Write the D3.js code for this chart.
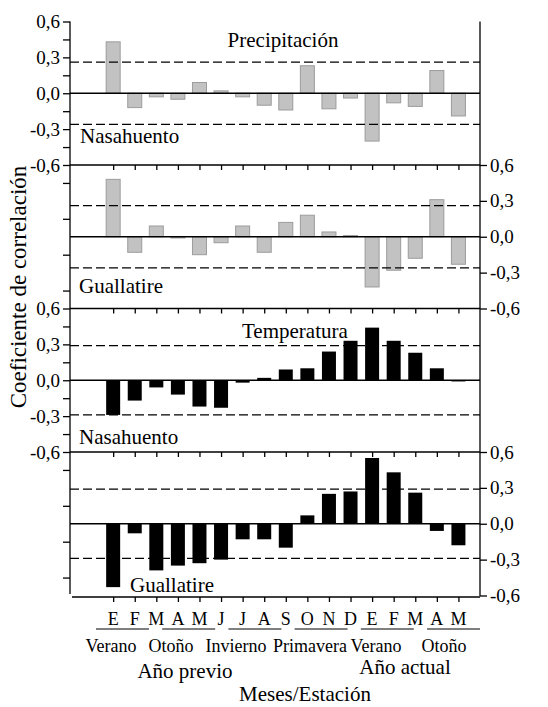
<!DOCTYPE html>
<html>
<head>
<meta charset="utf-8">
<script src="https://cdn.jsdelivr.net/npm/d3@7"></script>
<style>
  html, body { margin: 0; padding: 0; background: #fff; }
  svg { display: block; }
  svg text { font-family: "Liberation Serif", "DejaVu Serif", "Noto Serif", "Times New Roman", Times, serif; fill: #000; }
</style>
</head>
<body>
<svg id="chart" width="548" height="707"></svg>
<script>
// ---------- data ----------
const months = ["E","F","M","A","M","J","J","A","S","O","N","D","E","F","M","A","M"];
const precipNasahuento = [0.43, -0.12, -0.03, -0.05, 0.09, 0.02, -0.03, -0.10, -0.14, 0.23, -0.13, -0.04, -0.40, -0.08, -0.11, 0.19, -0.19];
const precipGuallatire = [0.48, -0.13, 0.09, -0.01, -0.15, -0.05, 0.09, -0.13, 0.12, 0.18, 0.04, 0.01, -0.42, -0.28, -0.18, 0.31, -0.23];
const tempNasahuento   = [-0.29, -0.17, -0.06, -0.12, -0.22, -0.23, -0.02, 0.02, 0.09, 0.10, 0.24, 0.33, 0.44, 0.33, 0.23, 0.10, -0.01];
const tempGuallatire   = [-0.53, -0.08, -0.39, -0.35, -0.33, -0.30, -0.13, -0.13, -0.20, 0.07, 0.25, 0.27, 0.55, 0.43, 0.26, -0.06, -0.18];
const seasons = ["Verano","Otoño","Invierno","Primavera","Verano","Otoño"];
const yearLabels = ["Año previo","Año actual"];
const yMajorTicks = [0.6, 0.3, 0.0, -0.3, -0.6];
const yMinorTicks = [0.45, 0.15, -0.15, -0.45];
const sigPrecip = 0.26;
const sigTemp = 0.29;
const variableTitles = ["Precipitación","Temperatura"];
const stations = ["Nasahuento","Guallatire"];
const yTitle = "Coeficiente de correlación";
const xTitle = "Meses/Estación";

// ---------- layout ----------
const FONT = '"Liberation Serif", "DejaVu Serif", "Noto Serif", "Times New Roman", Times, serif';
const svg = d3.select("#chart");
const L = 70, R = 480;
const panelTops = [21.5, 165, 308.5, 452];
const PH = 143.5;
const bottomY = 597;
const u = (R - L) / 19;
const idx = months.map((m, i) => i);
const x = d3.scalePoint().domain(idx).range([L + 2 * u, L + 18 * u]);
const bw = 14;

const fmt = v => (v < -1e-9 ? "-" : "") + Math.abs(v).toFixed(1).replace(".", ",");

const panels = [
  { values: precipNasahuento, sig: sigPrecip, fill: "#c2c2c2", stroke: "#9c9c9c", labelsLeft: true },
  { values: precipGuallatire, sig: sigPrecip, fill: "#c2c2c2", stroke: "#9c9c9c", labelsLeft: false },
  { values: tempNasahuento,   sig: sigTemp,   fill: "#000",    stroke: "none",    labelsLeft: true },
  { values: tempGuallatire,   sig: sigTemp,   fill: "#000",    stroke: "none",    labelsLeft: false }
];

const axisStroke = 1.3;
const styleText = sel => sel.attr("font-family", FONT).style("font-family", FONT).attr("fill", "#000");

panels.forEach((p, k) => {
  const top = panelTops[k];
  const y = d3.scaleLinear().domain([-0.6, 0.6]).range([top + PH, top]);
  const g = svg.append("g");

  g.selectAll("rect").data(p.values).enter().append("rect")
    .attr("x", (d, i) => x(i) - bw / 2)
    .attr("y", d => y(Math.max(0, d)))
    .attr("width", bw)
    .attr("height", d => Math.abs(y(d) - y(0)))
    .attr("fill", p.fill)
    .attr("stroke", p.stroke)
    .attr("stroke-width", 1);

  [p.sig, -p.sig].forEach(s => {
    g.append("line").attr("x1", L).attr("x2", R).attr("y1", y(s)).attr("y2", y(s))
      .attr("stroke", "#000").attr("stroke-width", 1.2).attr("stroke-dasharray", "9,4");
  });
  g.append("line").attr("x1", L).attr("x2", R).attr("y1", y(0)).attr("y2", y(0))
    .attr("stroke", "#000").attr("stroke-width", axisStroke);

  if (p.labelsLeft) {
    const ax = d3.axisLeft(y).tickValues(yMajorTicks.concat(yMinorTicks)).tickSize(7).tickPadding(3)
      .tickFormat(d => yMajorTicks.includes(d) ? fmt(d) : "");
    const a = svg.append("g").attr("transform", `translate(${L},0)`).call(ax);
    a.select(".domain").remove();
    a.selectAll("line").attr("stroke-width", axisStroke);
    styleText(a.selectAll("text")).style("font-size", "19px");
  } else {
    const axl = d3.axisLeft(y).tickValues(yMinorTicks).tickSize(7).tickFormat("");
    const a1 = svg.append("g").attr("transform", `translate(${L},0)`).call(axl);
    a1.select(".domain").remove();
    a1.selectAll("line").attr("stroke-width", axisStroke);
    const axr = d3.axisRight(y).tickValues(yMajorTicks).tickSize(7).tickPadding(3).tickFormat(fmt);
    const a2 = svg.append("g").attr("transform", `translate(${R},0)`).call(axr);
    a2.select(".domain").remove();
    a2.selectAll("line").attr("stroke-width", axisStroke);
    styleText(a2.selectAll("text")).style("font-size", "19px");
  }
});

const boundaries = [panelTops[1], panelTops[2], panelTops[3], bottomY];
boundaries.forEach(b => {
  const ax = d3.axisBottom(x).tickSize(5).tickFormat("");
  const a = svg.append("g").attr("transform", `translate(0,${b})`).call(ax);
  a.select(".domain").remove();
  a.selectAll("line").attr("stroke-width", axisStroke);
  svg.append("line").attr("x1", b === bottomY ? L + 2 : L).attr("x2", R).attr("y1", b).attr("y2", b)
    .attr("stroke", "#000").attr("stroke-width", axisStroke);
});

svg.append("line").attr("x1", L).attr("x2", L).attr("y1", panelTops[0]).attr("y2", bottomY - 3)
  .attr("stroke", "#000").attr("stroke-width", axisStroke);
svg.append("line").attr("x1", R).attr("x2", R).attr("y1", panelTops[0]).attr("y2", bottomY - 1)
  .attr("stroke", "#000").attr("stroke-width", axisStroke);

const big = "21px";
const label = (xx, yy, t, size, anchor) => styleText(svg.append("text").attr("x", xx).attr("y", yy)
  .attr("text-anchor", anchor || "start")).style("font-size", size).text(t);

label(283, 47, variableTitles[0], big, "middle");
label(80, 143, stations[0], big);
label(79, 293, stations[1], big);
label(242, 338, variableTitles[1], big);
label(79, 444, stations[0], big);
label(130, 592, stations[1], big);

styleText(svg.append("text").attr("transform", "translate(26,287) rotate(-90)").attr("text-anchor", "middle"))
  .style("font-size", "23px").text(yTitle);

styleText(svg.append("g").selectAll("text").data(months).enter().append("text")
  .attr("x", (d, i) => x(i)).attr("y", 625).attr("text-anchor", "middle"))
  .style("font-size", "18px").text(d => d);

const sb = d3.scaleBand().domain(d3.range(seasons.length)).range([96, 480]).paddingInner(0.2).paddingOuter(0);
svg.append("g").selectAll("line").data(seasons).enter().append("line")
  .attr("x1", (d, i) => sb(i)).attr("x2", (d, i) => sb(i) + sb.bandwidth())
  .attr("y1", 629).attr("y2", 629).attr("stroke", "#000").attr("stroke-width", 1.2);

const seasonCenters = [111, 171, 236, 310, 376, 444];
styleText(svg.append("g").selectAll("text").data(seasons).enter().append("text")
  .attr("x", (d, i) => seasonCenters[i]).attr("y", 652).attr("text-anchor", "middle"))
  .style("font-size", "18px").text(d => d);

label(185, 678, yearLabels[0], big, "middle");
label(405, 674, yearLabels[1], big, "middle");
label(305, 701, xTitle, big, "middle");
</script>
</body>
</html>
